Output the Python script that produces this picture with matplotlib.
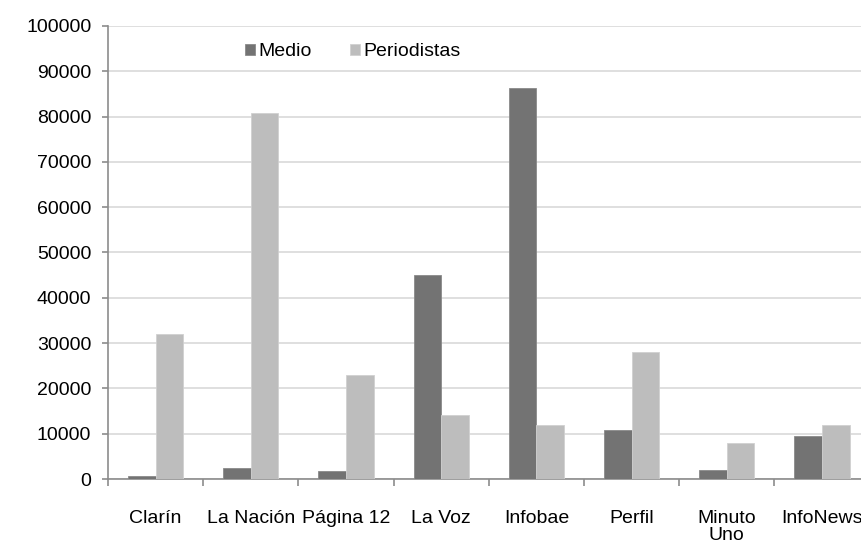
import numpy as np
import matplotlib
matplotlib.use("Agg")
import matplotlib.pyplot as plt

matplotlib.rcParams["font.family"] = ["Liberation Sans", "DejaVu Sans"]
matplotlib.rcParams["font.size"] = 14

# data
medios = ["Clarín", "La Nación", "Página 12", "La Voz", "Infobae", "Perfil", "Minuto\nUno", "InfoNews"]
medio = [700, 2450, 1700, 45100, 86400, 10750, 2000, 9400]
periodistas = [31900, 80700, 22850, 14100, 11850, 28100, 8000, 11850]
yticks = [0, 10000, 20000, 30000, 40000, 50000, 60000, 70000, 80000, 90000, 100000]

fig = plt.figure(figsize=(8.62, 5.47), dpi=100)
# right edge runs past the figure, like the source screenshot
ax = fig.add_axes([0.1253, 0.1243, 0.8835, 0.8282])

x = np.arange(len(medios))
w = 0.29
ax.bar(x - w / 2, medio, width=w, color="#737373", edgecolor="#8a8a8a", linewidth=0.6, label="Medio", zorder=3)
ax.bar(x + w / 2, periodistas, width=w, color="#bdbdbd", edgecolor="#d0d0d0", linewidth=0.6, label="Periodistas", zorder=3)

ax.set_xlim(-0.5, len(medios) - 0.5)
ax.set_ylim(0, 100000)
ax.set_yticks(yticks)
ax.set_yticklabels([str(v) for v in yticks])
ax.yaxis.grid(True, color="#d9d9d9", linewidth=1.2, zorder=0)

ax.set_xticks(x)
ax.set_xticklabels(medios, linespacing=1.0)
ax.set_xticks(np.arange(len(medios) + 1) - 0.5, minor=True)
ax.tick_params(axis="x", which="major", length=0, pad=22)
ax.tick_params(axis="x", which="minor", length=5, width=1.2, color="#8c8c8c")
ax.tick_params(axis="y", length=4, width=1.2, color="#8c8c8c", pad=8)

ax.spines["right"].set_visible(False)
ax.spines["top"].set_visible(False)
ax.spines["left"].set_color("#8c8c8c")
ax.spines["bottom"].set_color("#8c8c8c")
ax.spines["left"].set_linewidth(1.2)
ax.spines["bottom"].set_linewidth(1.2)

ax.legend(loc="upper left", bbox_to_anchor=(245 / 862, 1 - 43 / 547), bbox_transform=fig.transFigure,
          ncol=2, frameon=False, handlelength=0.5, handleheight=0.5, handletextpad=0.2,
          columnspacing=1.95, borderaxespad=0, borderpad=0)

plt.savefig("out.png", dpi=100)
